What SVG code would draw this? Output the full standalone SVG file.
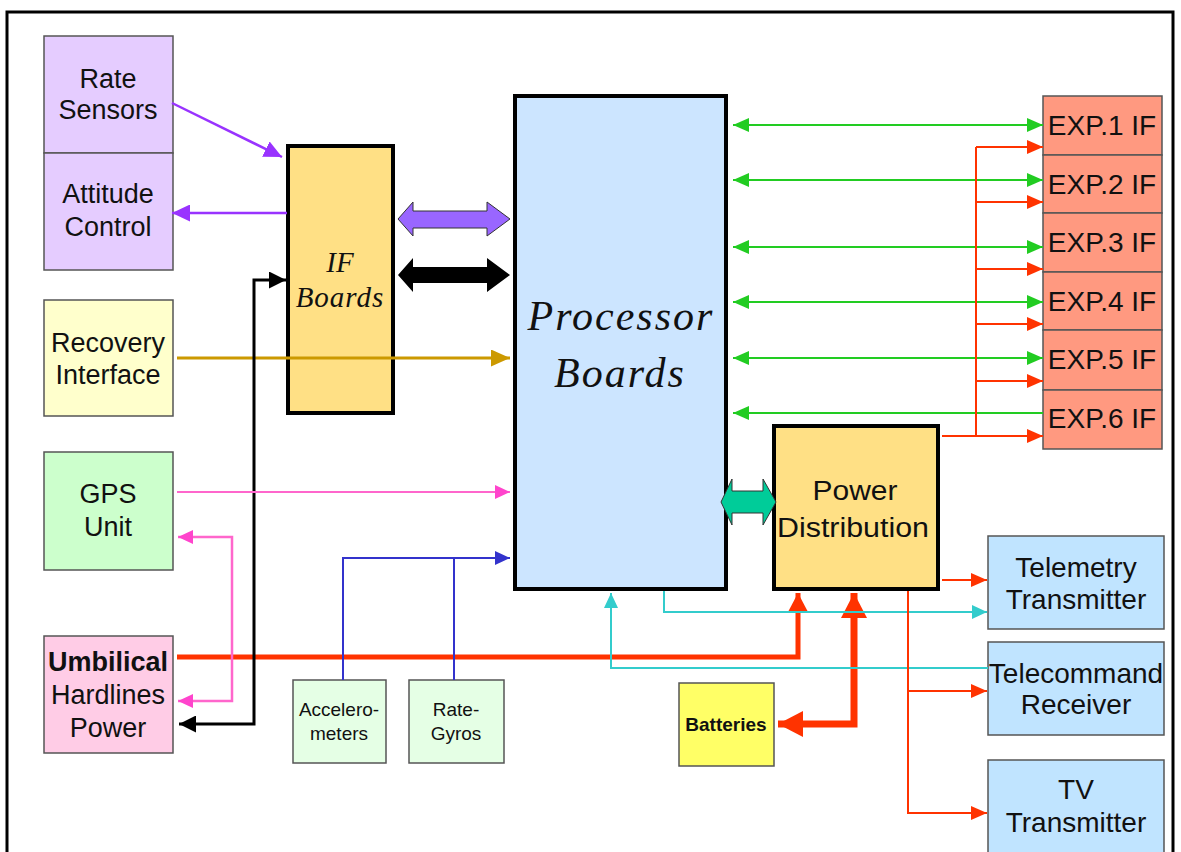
<svg xmlns="http://www.w3.org/2000/svg" width="1181" height="852" viewBox="0 0 1181 852">
<defs>
<style>
.box{stroke:#555;stroke-width:1.5}
.t{font-family:"Liberation Sans",Arial,sans-serif;font-size:27px;fill:#111;text-anchor:middle}
.tr{font-size:28px}
.ts{font-family:"Liberation Sans",Arial,sans-serif;font-size:19px;fill:#111;text-anchor:middle}
.ti{font-family:"Liberation Serif","Times New Roman",serif;font-style:italic;fill:#111;text-anchor:middle}
.ln{fill:none}
</style>
<marker id="aG" viewBox="0 0 16 14" refX="16" refY="7" markerWidth="16" markerHeight="14" markerUnits="userSpaceOnUse" orient="auto-start-reverse"><path d="M0,0 L16,7 L0,14 Z" fill="#22CC22"/></marker>
<marker id="aR" viewBox="0 0 16 14" refX="16" refY="7" markerWidth="16" markerHeight="14" markerUnits="userSpaceOnUse" orient="auto"><path d="M0,0 L16,7 L0,14 Z" fill="#FF3300"/></marker>
<marker id="aP" viewBox="0 0 18 17" refX="18" refY="8.5" markerWidth="18" markerHeight="17" markerUnits="userSpaceOnUse" orient="auto"><path d="M0,0 L18,8.5 L0,17 Z" fill="#9933FF"/></marker>
<marker id="aK" viewBox="0 0 17 17" refX="17" refY="8.5" markerWidth="17" markerHeight="17" markerUnits="userSpaceOnUse" orient="auto-start-reverse"><path d="M0,0 L17,8.5 L0,17 Z" fill="#000"/></marker>
<marker id="aPk" viewBox="0 0 15 14" refX="15" refY="7" markerWidth="15" markerHeight="14" markerUnits="userSpaceOnUse" orient="auto-start-reverse"><path d="M0,0 L15,7 L0,14 Z" fill="#FF44CC"/></marker>
<marker id="aB" viewBox="0 0 15 14" refX="15" refY="7" markerWidth="15" markerHeight="14" markerUnits="userSpaceOnUse" orient="auto"><path d="M0,0 L15,7 L0,14 Z" fill="#3333CC"/></marker>
<marker id="aC" viewBox="0 0 15 14" refX="15" refY="7" markerWidth="15" markerHeight="14" markerUnits="userSpaceOnUse" orient="auto"><path d="M0,0 L15,7 L0,14 Z" fill="#33CCCC"/></marker>
<marker id="aY" viewBox="0 0 19 17" refX="19" refY="8.5" markerWidth="19" markerHeight="17" markerUnits="userSpaceOnUse" orient="auto"><path d="M0,0 L19,8.5 L0,17 Z" fill="#CC9900"/></marker>
<marker id="aR2" viewBox="0 0 19 20" refX="19" refY="10" markerWidth="19" markerHeight="20" markerUnits="userSpaceOnUse" orient="auto"><path d="M0,0 L19,10 L0,20 Z" fill="#FF3300"/></marker>
<marker id="aR3" viewBox="0 0 25 26" refX="25" refY="13" markerWidth="25" markerHeight="26" markerUnits="userSpaceOnUse" orient="auto-start-reverse"><path d="M0,0 L25,13 L0,26 Z" fill="#FF3300"/></marker>
</defs>
<rect x="0" y="0" width="1181" height="852" fill="#fff"/>
<rect x="7" y="12" width="1166" height="860" fill="none" stroke="#000" stroke-width="3"/>

<g id="rate-sensors"><rect class="box" x="44" y="36" width="129" height="117" fill="#E5CCFF"/>
<text class="t" x="108" y="88">Rate</text><text class="t" x="108" y="119">Sensors</text></g>
<g id="attitude-control"><rect class="box" x="44" y="153" width="129" height="117" fill="#E5CCFF"/>
<text class="t" x="108" y="203">Attitude</text><text class="t" x="108" y="236">Control</text></g>
<g id="if-boards"><rect x="288" y="146" width="105" height="267" fill="#FFE085" stroke="#000" stroke-width="4"/>
<text class="ti" x="340" y="272" font-size="29" fill="#333">IF</text><text class="ti" x="340" y="307" font-size="29" letter-spacing="1">Boards</text></g>
<g id="recovery-interface"><rect class="box" x="44" y="300" width="129" height="116" fill="#FFFFCC"/>
<text class="t" x="108" y="352">Recovery</text><text class="t" x="108" y="384">Interface</text></g>
<g id="gps-unit"><rect class="box" x="44" y="452" width="129" height="118" fill="#CCFFCC"/>
<text class="t" x="108" y="503">GPS</text><text class="t" x="108" y="536">Unit</text></g>
<g id="umbilical"><rect class="box" x="44" y="636" width="129" height="117" fill="#FFCCE6"/>
<text class="t" x="108" y="671" font-weight="bold">Umbilical</text><text class="t" x="108" y="704">Hardlines</text><text class="t" x="108" y="737">Power</text></g>
<g id="accelerometers"><rect class="box" x="293" y="680" width="93" height="83" fill="#E5FFE5"/>
<text class="ts" x="339" y="716">Accelero-</text><text class="ts" x="339" y="740">meters</text></g>
<g id="rate-gyros"><rect class="box" x="409" y="680" width="95" height="83" fill="#E5FFE5"/>
<text class="ts" x="456" y="716">Rate-</text><text class="ts" x="456" y="740">Gyros</text></g>
<g id="processor-boards"><rect x="515" y="96" width="211" height="493" fill="#CCE5FF" stroke="#000" stroke-width="4"/>
<text class="ti" x="621" y="330" font-size="42" letter-spacing="2">Processor</text><text class="ti" x="620" y="387" font-size="42" letter-spacing="2">Boards</text></g>
<g id="power-distribution"><rect x="774" y="426" width="164" height="163" fill="#FFE085" stroke="#000" stroke-width="4"/>
<text class="t" x="855" y="500" font-size="27" textLength="85" lengthAdjust="spacingAndGlyphs">Power</text><text class="t" x="853" y="537" font-size="27" textLength="152" lengthAdjust="spacingAndGlyphs">Distribution</text></g>
<g id="batteries"><rect class="box" x="679" y="683" width="95" height="83" fill="#FFFF66"/>
<text class="ts" x="726" y="731" font-size="17.5" font-weight="bold">Batteries</text></g>
<g id="exp1"><rect class="box" x="1043" y="96" width="119" height="59" fill="#FF9980"/><text class="t tr" x="1102" y="135">EXP.1 IF</text></g>
<g id="exp2"><rect class="box" x="1043" y="155" width="119" height="58" fill="#FF9980"/><text class="t tr" x="1102" y="194">EXP.2 IF</text></g>
<g id="exp3"><rect class="box" x="1043" y="213" width="119" height="59" fill="#FF9980"/><text class="t tr" x="1102" y="252">EXP.3 IF</text></g>
<g id="exp4"><rect class="box" x="1043" y="272" width="119" height="58" fill="#FF9980"/><text class="t tr" x="1102" y="311">EXP.4 IF</text></g>
<g id="exp5"><rect class="box" x="1043" y="330" width="119" height="60" fill="#FF9980"/><text class="t tr" x="1102" y="369">EXP.5 IF</text></g>
<g id="exp6"><rect class="box" x="1043" y="390" width="119" height="59" fill="#FF9980"/><text class="t tr" x="1102" y="428">EXP.6 IF</text></g>
<g id="telemetry-transmitter"><rect class="box" x="988" y="536" width="176" height="93" fill="#C0E4FF"/>
<text class="t tr" x="1076" y="577">Telemetry</text><text class="t tr" x="1076" y="609">Transmitter</text></g>
<g id="telecommand-receiver"><rect class="box" x="988" y="642" width="176" height="93" fill="#C0E4FF"/>
<text class="t tr" x="1076" y="683">Telecommand</text><text class="t tr" x="1076" y="714">Receiver</text></g>
<g id="tv-transmitter"><rect class="box" x="988" y="760" width="176" height="110" fill="#C0E4FF"/>
<text class="t tr" x="1076" y="799">TV</text><text class="t tr" x="1076" y="832">Transmitter</text></g>

<g id="connectors">
<path class="ln" d="M177,657 L798,657 L798,593" stroke="#FF3300" stroke-width="5" marker-end="url(#aR2)"/>
<path class="ln" d="M778,724 L854,724 L854,593" stroke="#FF3300" stroke-width="7" marker-start="url(#aR3)" marker-end="url(#aR3)"/>
<line x1="172" y1="103" x2="282" y2="157" stroke="#9933FF" stroke-width="2.5" marker-end="url(#aP)"/>
<line x1="287" y1="213" x2="172" y2="213" stroke="#9933FF" stroke-width="2.5" marker-end="url(#aP)"/>
<path d="M398,219 L413,202 L413,211 L487,211 L487,202 L510,219 L487,236 L487,228 L413,228 L413,236 Z" fill="#9966FF" stroke="#333" stroke-width="1"/>
<path d="M398,275 L413,258 L413,267 L487,267 L487,258 L510,275 L487,292 L487,283 L413,283 L413,292 Z" fill="#000"/>
<path d="M721,502 L732,479 L732,491 L763,491 L763,479 L776,502 L763,525 L763,513 L732,513 L732,525 Z" fill="#00CC99" stroke="#333" stroke-width="1"/>
<line x1="177" y1="358" x2="510" y2="358" stroke="#CC9900" stroke-width="3" marker-end="url(#aY)"/>
<path class="ln" d="M179,724 L254,724 L254,280 L286,280" stroke="#000" stroke-width="3" marker-start="url(#aK)" marker-end="url(#aK)"/>
<line x1="177" y1="492" x2="510" y2="492" stroke="#FF66CC" stroke-width="2" marker-end="url(#aPk)"/>
<path class="ln" d="M178,537 L232,537 L232,701 L178,701" stroke="#FF66CC" stroke-width="2.5" marker-start="url(#aPk)" marker-end="url(#aPk)"/>
<path class="ln" d="M343,680 L343,558 L510,558" stroke="#3333CC" stroke-width="2" marker-end="url(#aB)"/>
<line x1="454" y1="680" x2="454" y2="558" stroke="#3333CC" stroke-width="2"/>
<path class="ln" d="M664,591 L664,612 L987,612" stroke="#33CCCC" stroke-width="2" marker-end="url(#aC)"/>
<path class="ln" d="M988,668 L611,668 L611,593" stroke="#33CCCC" stroke-width="2" marker-end="url(#aC)"/>
<line x1="733" y1="125" x2="1043" y2="125" stroke="#22CC22" stroke-width="2" marker-start="url(#aG)" marker-end="url(#aG)"/>
<line x1="733" y1="180" x2="1043" y2="180" stroke="#22CC22" stroke-width="2" marker-start="url(#aG)" marker-end="url(#aG)"/>
<line x1="733" y1="247" x2="1043" y2="247" stroke="#22CC22" stroke-width="2" marker-start="url(#aG)" marker-end="url(#aG)"/>
<line x1="733" y1="302" x2="1043" y2="302" stroke="#22CC22" stroke-width="2" marker-start="url(#aG)" marker-end="url(#aG)"/>
<line x1="733" y1="358" x2="1043" y2="358" stroke="#22CC22" stroke-width="2" marker-start="url(#aG)" marker-end="url(#aG)"/>
<line x1="1043" y1="413" x2="733" y2="413" stroke="#22CC22" stroke-width="2" marker-end="url(#aG)"/>
<path class="ln" d="M942,436 L976,436 M976,147 L976,436" stroke="#FF3300" stroke-width="2"/>
<line x1="976" y1="147" x2="1043" y2="147" stroke="#FF3300" stroke-width="2" marker-end="url(#aR)"/>
<line x1="976" y1="202" x2="1043" y2="202" stroke="#FF3300" stroke-width="2" marker-end="url(#aR)"/>
<line x1="976" y1="269" x2="1043" y2="269" stroke="#FF3300" stroke-width="2" marker-end="url(#aR)"/>
<line x1="976" y1="324" x2="1043" y2="324" stroke="#FF3300" stroke-width="2" marker-end="url(#aR)"/>
<line x1="976" y1="381" x2="1043" y2="381" stroke="#FF3300" stroke-width="2" marker-end="url(#aR)"/>
<line x1="976" y1="436" x2="1043" y2="436" stroke="#FF3300" stroke-width="2" marker-end="url(#aR)"/>
<line x1="942" y1="580" x2="987" y2="580" stroke="#FF3300" stroke-width="2" marker-end="url(#aR)"/>
<path class="ln" d="M908,591 L908,813 L987,813" stroke="#FF3300" stroke-width="2" marker-end="url(#aR)"/>
<line x1="908" y1="691" x2="987" y2="691" stroke="#FF3300" stroke-width="2" marker-end="url(#aR)"/>
</g>
</svg>
